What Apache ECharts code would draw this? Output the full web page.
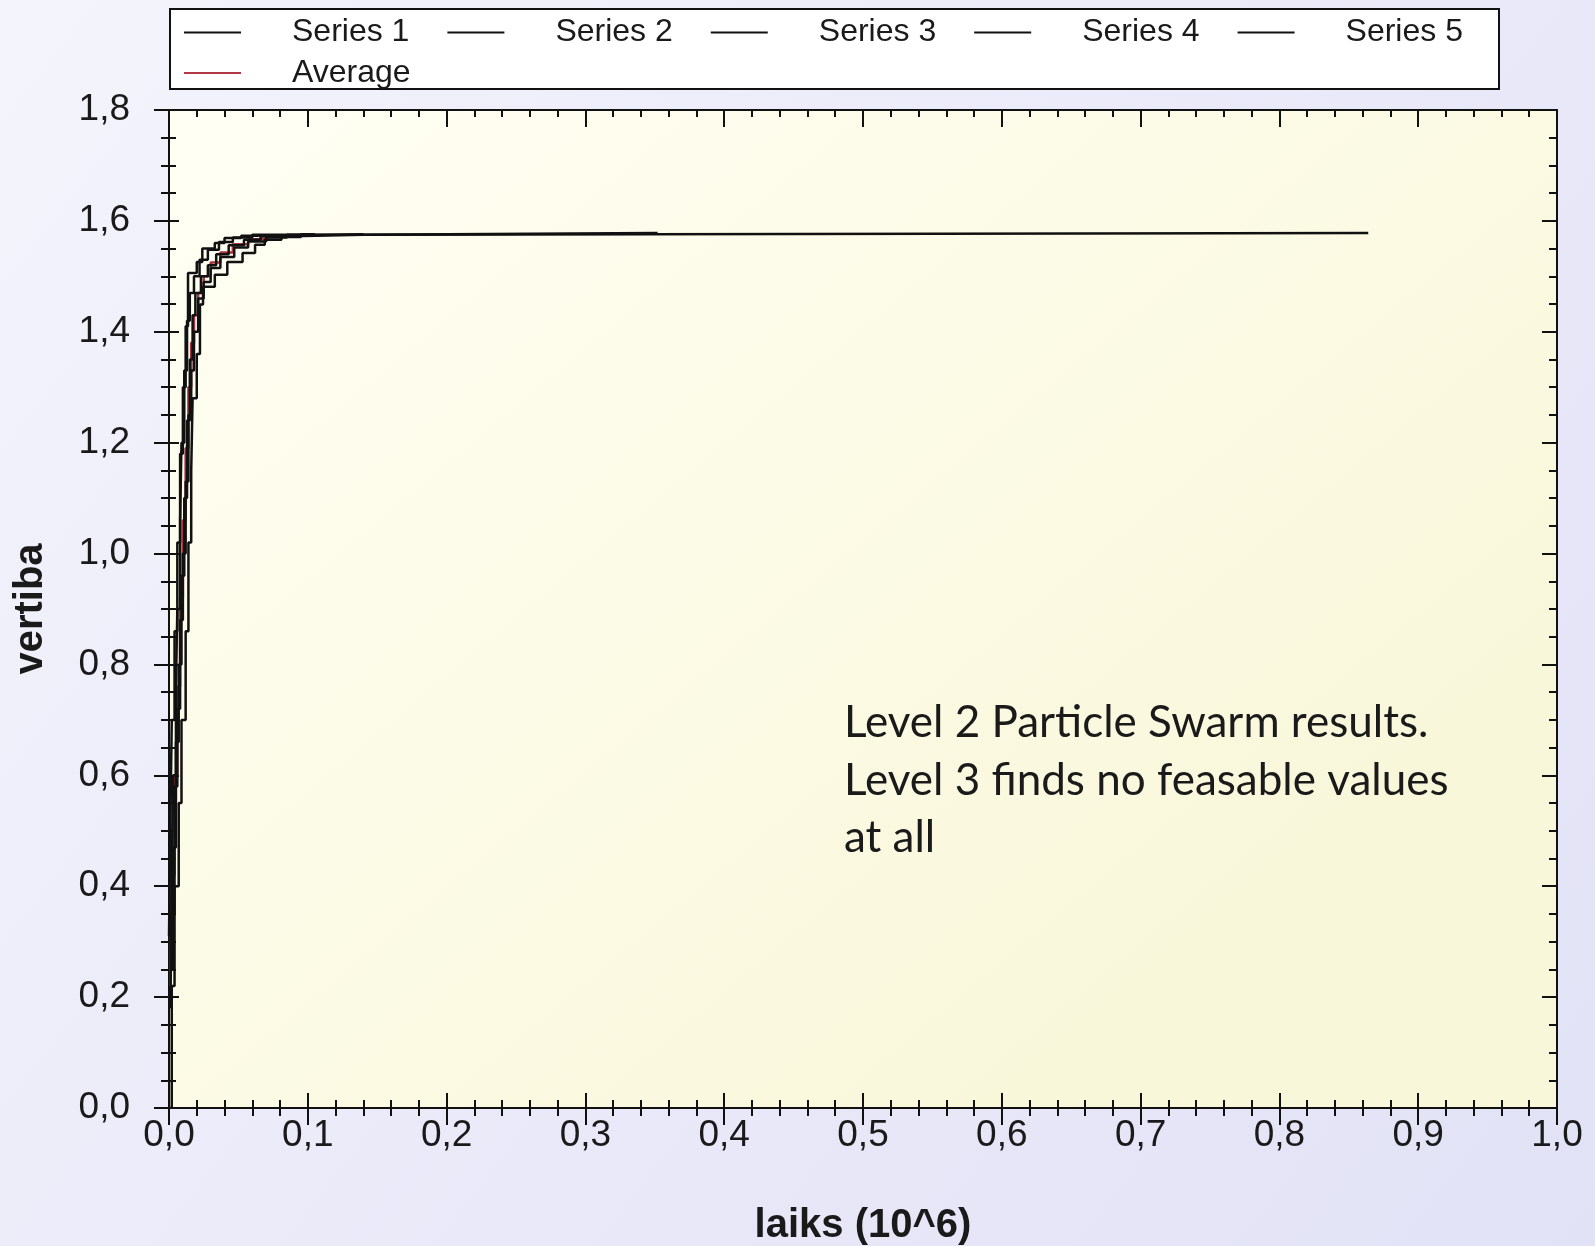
<!DOCTYPE html>
<html>
<head>
<meta charset="utf-8">
<script src="https://cdn.jsdelivr.net/npm/echarts@6/dist/echarts.min.js"></script>
<style>
  html, body { margin: 0; padding: 0; }
  #chart { width: 1595px; height: 1246px; }
</style>
</head>
<body>
<div id="chart"></div>
<script>
// Best value found so far against elapsed time (in millions), one run per series.
const series1 = [[0.001,0.18],[0.002,0.43],[0.003,0.60],[0.005,0.76],[0.006,0.90],[0.008,1.06],[0.009,1.20],[0.011,1.33],[0.013,1.42],[0.015,1.47],[0.018,1.50],[0.022,1.53],[0.028,1.548],[0.036,1.562],[0.046,1.570],[0.060,1.575],[0.140,1.578],[0.864,1.578]];
const series2 = [[0.001,0.25],[0.003,0.47],[0.005,0.66],[0.007,0.80],[0.009,0.96],[0.011,1.10],[0.013,1.24],[0.015,1.35],[0.017,1.43],[0.019,1.47],[0.023,1.50],[0.028,1.52],[0.034,1.54],[0.043,1.556],[0.054,1.566],[0.066,1.572],[0.080,1.575],[0.140,1.578],[0.352,1.578]];
const series3 = [[0.000,0.31],[0.001,0.52],[0.002,0.70],[0.004,0.86],[0.006,1.02],[0.008,1.18],[0.010,1.30],[0.012,1.41],[0.0137,1.506],[0.020,1.526],[0.024,1.550],[0.033,1.560],[0.040,1.569],[0.052,1.573],[0.070,1.576],[0.140,1.576]];
const series4 = [[0.002,0.35],[0.004,0.58],[0.006,0.72],[0.008,0.88],[0.010,1.00],[0.012,1.13],[0.014,1.25],[0.016,1.33],[0.018,1.40],[0.021,1.46],[0.025,1.49],[0.030,1.515],[0.037,1.535],[0.047,1.552],[0.057,1.563],[0.070,1.570],[0.085,1.575],[0.105,1.576]];
const series5 = [[0.000,0.00],[0.002,0.22],[0.004,0.40],[0.007,0.55],[0.009,0.70],[0.012,0.86],[0.014,1.02],[0.016,1.15],[0.017,1.28],[0.020,1.36],[0.0223,1.449],[0.0245,1.481],[0.033,1.503],[0.042,1.526],[0.053,1.542],[0.062,1.557],[0.069,1.566],[0.081,1.571],[0.095,1.576],[0.105,1.576]];
const average = [[0.001,0.22],[0.002,0.42],[0.004,0.60],[0.006,0.76],[0.008,0.92],[0.010,1.06],[0.012,1.19],[0.014,1.30],[0.016,1.38],[0.018,1.43],[0.021,1.47],[0.025,1.50],[0.030,1.525],[0.037,1.543],[0.046,1.558],[0.057,1.567],[0.070,1.572],[0.085,1.575],[0.105,1.577]];

const runNames = ['Series 1', 'Series 2', 'Series 3', 'Series 4', 'Series 5'];
const runData = [series1, series2, series3, series4, series5];
const noteLines = ['Level 2 Particle Swarm results.', 'Level 3 finds no feasable values', 'at all'];

const X_MIN = 0, X_MAX = 1.0, X_STEP = 0.1;
const Y_MIN = 0, Y_MAX = 1.8, Y_STEP = 0.2;

const ink = '#111111';
const tickFont = { fontFamily: 'Liberation Sans, Arial, sans-serif', fontSize: 37, color: '#1a1a1a' };
const commaFmt = v => v.toFixed(1).replace('.', ',');

function axisBase(extra) {
  return Object.assign({
    type: 'value',
    axisLine: { show: true, onZero: false, lineStyle: { color: ink, width: 2 } },
    splitLine: { show: false },
    axisLabel: { show: false },
    minorSplitLine: { show: false }
  }, extra);
}

const chart = echarts.init(document.getElementById('chart'));

const lineSeries = runData.map((d, i) => ({
  name: runNames[i],
  type: 'line',
  step: 'end',
  data: d,
  symbol: 'none',
  lineStyle: { color: ink, width: 2.5 },
  itemStyle: { color: ink },
  z: 3
}));
lineSeries.push({
  name: 'Average',
  type: 'line',
  step: 'end',
  data: average,
  symbol: 'none',
  lineStyle: { color: '#a8323f', width: 2.5 },
  itemStyle: { color: '#b23a48' },
  z: 2
});

const legendText = { fontFamily: 'Liberation Sans, Arial, sans-serif', fontSize: 32, color: '#1a1a1a', lineHeight: 36, padding: [0, 0, 0, 46] };

chart.setOption({
  animation: false,
  backgroundColor: {
    type: 'linear', x: 0, y: 0, x2: 1, y2: 1,
    colorStops: [{ offset: 0, color: '#f4f4fc' }, { offset: 0.5, color: '#eaeaf9' }, { offset: 1, color: '#e2e2f6' }]
  },
  grid: {
    left: 169, right: 38, top: 110, bottom: 138,
    outerBoundsMode: 'none',
    containLabel: false,
    show: true,
    borderWidth: 0,
    backgroundColor: {
      type: 'linear', x: 0, y: 0, x2: 0.6, y2: 1,
      colorStops: [{ offset: 0, color: '#fffff4' }, { offset: 1, color: '#f9f7da' }]
    }
  },
  graphic: [
    {
      type: 'rect', left: 169, top: 8, z: 0,
      shape: { width: 1329, height: 80 },
      style: { fill: '#ffffff', stroke: ink, lineWidth: 2 }
    }
  ].concat(noteLines.map((t, i) => ({
    type: 'text', left: 844, top: 701 + i * 57.5, z: 10,
    style: { text: t, font: '44px Lato, "Open Sans", sans-serif', fill: '#1a1a1a' }
  }))),
  legend: [
    {
      data: runNames, left: 179, top: 9.5, orient: 'horizontal',
      icon: 'rect', itemWidth: 57, itemHeight: 2, itemGap: 38,
      textStyle: legendText, z: 5, selectedMode: false
    },
    {
      data: ['Average'], left: 179, top: 50, orient: 'horizontal',
      icon: 'rect', itemWidth: 57, itemHeight: 2, itemGap: 38,
      textStyle: legendText, z: 5, selectedMode: false
    }
  ],
  xAxis: [
    axisBase({
      position: 'bottom', min: X_MIN, max: X_MAX, interval: X_STEP,
      axisTick: { show: true, inside: false, length: 17, lineStyle: { color: ink, width: 2 } },
      minorTick: { show: true, splitNumber: 5, length: 8, lineStyle: { color: ink, width: 2 } },
      axisLabel: Object.assign({ show: true, margin: 9, formatter: commaFmt }, tickFont),
      name: 'laiks (10^6)', nameLocation: 'middle', nameGap: 98,
      nameTextStyle: { fontFamily: 'Liberation Sans, Arial, sans-serif', fontSize: 40, fontWeight: 'bold', color: '#1a1a1a' }
    }),
    axisBase({
      position: 'bottom', min: X_MIN, max: X_MAX, interval: X_STEP,
      axisTick: { show: true, inside: true, length: 15, lineStyle: { color: ink, width: 2 } },
      minorTick: { show: true, splitNumber: 5, length: 8, lineStyle: { color: ink, width: 2 } }
    }),
    axisBase({
      position: 'top', min: X_MIN, max: X_MAX, interval: X_STEP,
      axisTick: { show: true, inside: true, length: 17, lineStyle: { color: ink, width: 2 } },
      minorTick: { show: true, splitNumber: 5, length: 7, lineStyle: { color: ink, width: 2 } }
    })
  ],
  yAxis: [
    axisBase({
      position: 'left', min: Y_MIN, max: Y_MAX, interval: Y_STEP,
      axisTick: { show: true, inside: false, length: 15, lineStyle: { color: ink, width: 2 } },
      minorTick: { show: true, splitNumber: 4, length: 8, lineStyle: { color: ink, width: 2 } },
      axisLabel: Object.assign({ show: true, margin: 39, formatter: commaFmt }, tickFont),
      name: 'vertiba', nameLocation: 'middle', nameGap: 118,
      nameTextStyle: { fontFamily: 'Liberation Sans, Arial, sans-serif', fontSize: 40, fontWeight: 'bold', color: '#1a1a1a' }
    }),
    axisBase({
      position: 'left', min: Y_MIN, max: Y_MAX, interval: Y_STEP,
      axisTick: { show: true, inside: true, length: 10, lineStyle: { color: ink, width: 2 } },
      minorTick: { show: true, splitNumber: 4, length: 7, lineStyle: { color: ink, width: 2 } }
    }),
    axisBase({
      position: 'right', min: Y_MIN, max: Y_MAX, interval: Y_STEP,
      axisTick: { show: true, inside: true, length: 15, lineStyle: { color: ink, width: 2 } },
      minorTick: { show: true, splitNumber: 4, length: 8, lineStyle: { color: ink, width: 2 } }
    })
  ],
  series: lineSeries
});
</script>
</body>
</html>
